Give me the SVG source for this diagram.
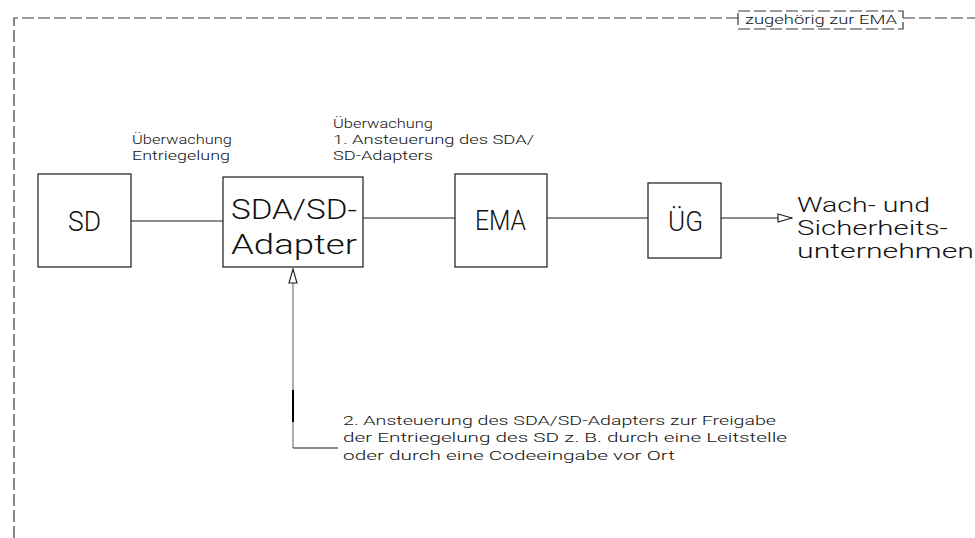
<svg xmlns="http://www.w3.org/2000/svg" width="975" height="538" viewBox="0 0 975 538">
  <defs>
    <style>
      .frame { fill: none; stroke: #3a3a3a; stroke-width: 1.2; stroke-dasharray: 12 4; }
      .box { fill: #ffffff; stroke: #1a1a1a; stroke-width: 1.2; }
      .wire { fill: none; stroke: #1a1a1a; stroke-width: 1.2; }
      .t { font-family: Roboto, "Liberation Sans", "DejaVu Sans", sans-serif; font-weight: 300; fill: #111; }
      .big { font-size: 28px; }
      .mid { font-size: 19.5px; }
      .small { font-size: 13px; }
    </style>
    <marker id="open-arrow" viewBox="0 0 16 10" refX="15" refY="5" markerWidth="16" markerHeight="10" markerUnits="userSpaceOnUse" orient="auto">
      <path d="M1,1 L15,5 L1,9 Z" fill="#ffffff" stroke="#1a1a1a" stroke-width="1.1"/>
    </marker>
  </defs>

  <rect width="975" height="538" fill="#ffffff"/>

  <!-- dashed boundary of the alarm system scope -->
  <g id="boundary">
    <path class="frame" d="M14,538 L14,18 L738,18"/>
    <path class="frame" d="M903,18 L975,18"/>
    <rect class="frame" x="738" y="11" width="165" height="18"/>
    <text class="t small" x="745" y="24" textLength="152" lengthAdjust="spacingAndGlyphs">zugehörig zur EMA</text>
  </g>

  <!-- connectors -->
  <g id="connectors">
    <line class="wire" x1="131" y1="221" x2="223" y2="221"/>
    <line class="wire" x1="363" y1="218" x2="455" y2="218"/>
    <line class="wire" x1="547" y1="218" x2="648" y2="218"/>
    <line class="wire" x1="721" y1="218" x2="792" y2="218" marker-end="url(#open-arrow)"/>
    <!-- release control line into the adapter -->
    <line x1="293" y1="448" x2="293" y2="269" stroke="#808080" stroke-width="1.3" marker-end="url(#open-arrow)"/>
    <line x1="293" y1="390" x2="293" y2="422" stroke="#000" stroke-width="2"/>
    <line class="wire" x1="293" y1="448" x2="338" y2="448"/>
  </g>

  <!-- connector labels -->
  <g id="label-sd-sda">
    <text class="t small" x="132" y="144" textLength="100" lengthAdjust="spacingAndGlyphs">Überwachung</text>
    <text class="t small" x="132" y="160" textLength="98" lengthAdjust="spacingAndGlyphs">Entriegelung</text>
  </g>
  <g id="label-sda-ema">
    <text class="t small" x="333" y="128" textLength="100" lengthAdjust="spacingAndGlyphs">Überwachung</text>
    <text class="t small" x="333" y="144" textLength="201" lengthAdjust="spacingAndGlyphs">1. Ansteuerung des SDA/</text>
    <text class="t small" x="333" y="160" textLength="100" lengthAdjust="spacingAndGlyphs">SD-Adapters</text>
  </g>
  <g id="label-release">
    <text class="t small" x="343" y="425" textLength="433" lengthAdjust="spacingAndGlyphs">2. Ansteuerung des SDA/SD-Adapters zur Freigabe</text>
    <text class="t small" x="343" y="442" textLength="444" lengthAdjust="spacingAndGlyphs">der Entriegelung des SD z. B. durch eine Leitstelle</text>
    <text class="t small" x="343" y="460" textLength="332" lengthAdjust="spacingAndGlyphs">oder durch eine Codeeingabe vor Ort</text>
  </g>

  <!-- nodes -->
  <g id="node-sd">
    <rect class="box" x="38" y="174" width="93" height="93"/>
    <text class="t big" x="68" y="231" textLength="33" lengthAdjust="spacingAndGlyphs">SD</text>
  </g>
  <g id="node-sda">
    <rect class="box" x="223" y="177" width="140" height="90"/>
    <text class="t big" x="231" y="219" textLength="126" lengthAdjust="spacingAndGlyphs">SDA/SD-</text>
    <text class="t big" x="231" y="254" textLength="126" lengthAdjust="spacingAndGlyphs">Adapter</text>
  </g>
  <g id="node-ema">
    <rect class="box" x="455" y="174" width="92" height="93"/>
    <text class="t big" x="475" y="230" textLength="51" lengthAdjust="spacingAndGlyphs">EMA</text>
  </g>
  <g id="node-ueg">
    <rect class="box" x="648" y="183" width="73" height="75"/>
    <text class="t big" x="668" y="231" textLength="35" lengthAdjust="spacingAndGlyphs">ÜG</text>
  </g>
  <g id="node-security">
    <text class="t mid" x="797" y="212" textLength="133" lengthAdjust="spacingAndGlyphs">Wach- und</text>
    <text class="t mid" x="797" y="235" textLength="151" lengthAdjust="spacingAndGlyphs">Sicherheits-</text>
    <text class="t mid" x="797" y="258" textLength="177" lengthAdjust="spacingAndGlyphs">unternehmen</text>
  </g>
</svg>
